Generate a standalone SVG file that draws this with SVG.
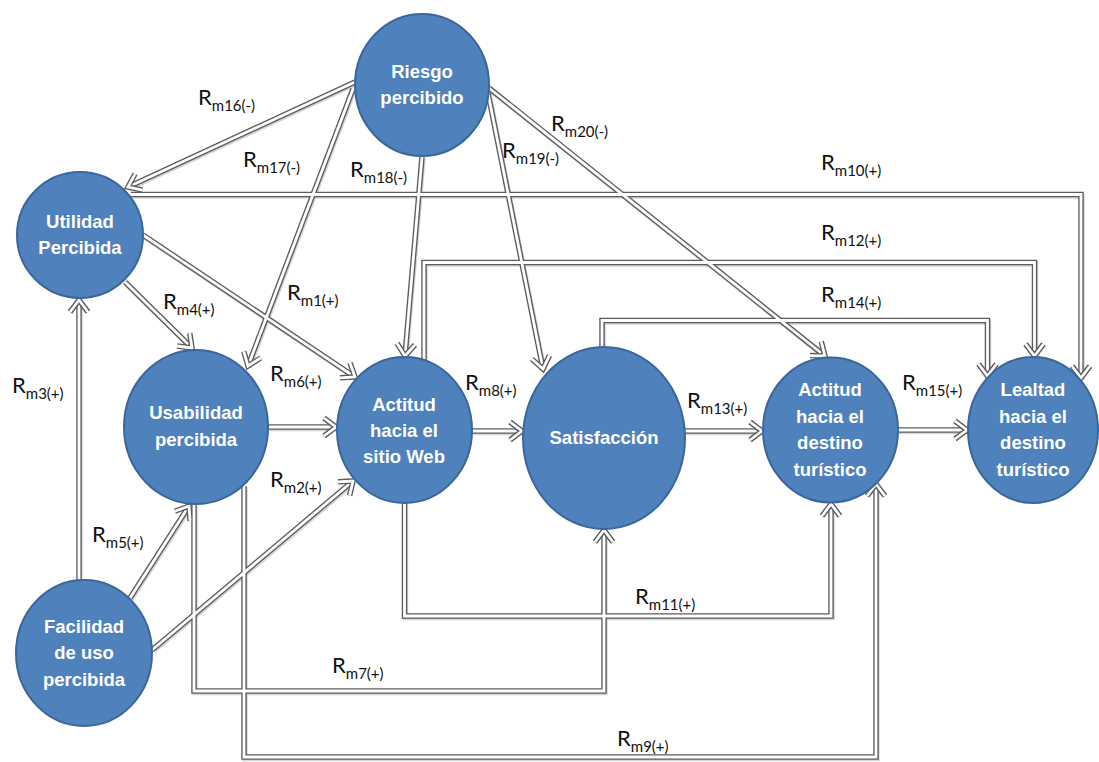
<svg xmlns="http://www.w3.org/2000/svg" xmlns:xlink="http://www.w3.org/1999/xlink" width="1099" height="762" viewBox="0 0 1099 762">
  <style>
    .node { fill: #4F81BD; stroke: #3A669A; stroke-width: 2; }
    .nt { font-family: "Liberation Sans", Arial, sans-serif; font-weight: 700; font-size: 18.5px; fill: #ffffff; text-anchor: middle; }
    .lbl { font-family: Lato, "Liberation Sans", sans-serif; font-size: 22px; fill: #111111; }
    .sub { font-size: 15px; }
    .shadow use { fill: none; stroke: #c4c4c4; stroke-width: 5.5; stroke-linejoin: miter; opacity: 0.7; }
    .outer use { fill: none; stroke: #5c5c5c; stroke-width: 5.5; stroke-linejoin: miter; }
    .inner use { fill: none; stroke: #ffffff; stroke-width: 2.8; stroke-linejoin: miter; marker-end: url(#head); }
  </style>
  <defs>
    <!-- open double-line chevron head -->
    <marker id="head" viewBox="-18 -14 26 28" markerWidth="26" markerHeight="28" refX="0" refY="0" orient="auto" markerUnits="userSpaceOnUse">
      <path d="M-12,-9 L0,0 L-12,9" fill="none" stroke="#5c5c5c" stroke-width="5.5" stroke-linejoin="miter"/>
      <path d="M-12,-9 L0,0 L-12,9" fill="none" stroke="#ffffff" stroke-width="2.8" stroke-linejoin="miter"/>
    </marker>
    <path id="c16" d="M355,82 L128,187"/>
    <path id="c17" d="M353,89 L248,366"/>
    <path id="c18" d="M422,157 L405,356"/>
    <path id="c19" d="M488,93 L543,369"/>
    <path id="c20" d="M489,88 L825,356"/>
    <path id="c10" d="M131,194.5 L1081,194.5 L1081,378"/>
    <path id="c12" d="M424,360 L424,262.5 L1034.5,262.5 L1034.5,356"/>
    <path id="c14" d="M602,348 L602,320.5 L987.5,320.5 L987.5,376"/>
    <path id="c1" d="M143,235 L355,377"/>
    <path id="c4" d="M125,282 L192,348"/>
    <path id="c6" d="M268,427 L336,427"/>
    <path id="c2" d="M152,650 L353,481"/>
    <path id="c5" d="M130,598 L189,506"/>
    <path id="c3" d="M79,581 L79,300"/>
    <path id="c7" d="M194,503 L194,691 L604,691 L604,530"/>
    <path id="c9" d="M244,486 L244,757 L876,757 L876,484"/>
    <path id="c11" d="M404.5,503 L404.5,616 L831,616 L831,504"/>
    <path id="c8" d="M472,431 L522,431"/>
    <path id="c13" d="M685,431 L762,431"/>
    <path id="c15" d="M898,430 L967,430"/>
  </defs>

  <g id="connectors">
    <g class="shadow" transform="translate(1,1.5)">
      <use xlink:href="#c16"/><use xlink:href="#c17"/><use xlink:href="#c18"/><use xlink:href="#c19"/><use xlink:href="#c20"/>
      <use xlink:href="#c10"/><use xlink:href="#c12"/><use xlink:href="#c14"/><use xlink:href="#c1"/><use xlink:href="#c4"/>
      <use xlink:href="#c6"/><use xlink:href="#c2"/><use xlink:href="#c5"/><use xlink:href="#c3"/><use xlink:href="#c7"/>
      <use xlink:href="#c9"/><use xlink:href="#c11"/><use xlink:href="#c8"/><use xlink:href="#c13"/><use xlink:href="#c15"/>
    </g>
    <g class="outer">
      <use xlink:href="#c16"/><use xlink:href="#c17"/><use xlink:href="#c18"/><use xlink:href="#c19"/><use xlink:href="#c20"/>
      <use xlink:href="#c10"/><use xlink:href="#c12"/><use xlink:href="#c14"/><use xlink:href="#c1"/><use xlink:href="#c4"/>
      <use xlink:href="#c6"/><use xlink:href="#c2"/><use xlink:href="#c5"/><use xlink:href="#c3"/><use xlink:href="#c7"/>
      <use xlink:href="#c9"/><use xlink:href="#c11"/><use xlink:href="#c8"/><use xlink:href="#c13"/><use xlink:href="#c15"/>
    </g>
    <g class="inner">
      <use xlink:href="#c16"/><use xlink:href="#c17"/><use xlink:href="#c18"/><use xlink:href="#c19"/><use xlink:href="#c20"/>
      <use xlink:href="#c10"/><use xlink:href="#c12"/><use xlink:href="#c14"/><use xlink:href="#c1"/><use xlink:href="#c4"/>
      <use xlink:href="#c6"/><use xlink:href="#c2"/><use xlink:href="#c5"/><use xlink:href="#c3"/><use xlink:href="#c7"/>
      <use xlink:href="#c9"/><use xlink:href="#c11"/><use xlink:href="#c8"/><use xlink:href="#c13"/><use xlink:href="#c15"/>
    </g>

    <!-- relation labels -->
    <text class="lbl" x="198" y="105">R<tspan class="sub" dy="6">m16(-)</tspan></text>
    <text class="lbl" x="243" y="167">R<tspan class="sub" dy="6">m17(-)</tspan></text>
    <text class="lbl" x="350" y="177">R<tspan class="sub" dy="6">m18(-)</tspan></text>
    <text class="lbl" x="502" y="158">R<tspan class="sub" dy="6">m19(-)</tspan></text>
    <text class="lbl" x="551" y="131">R<tspan class="sub" dy="6">m20(-)</tspan></text>
    <text class="lbl" x="821" y="170">R<tspan class="sub" dy="6">m10(+)</tspan></text>
    <text class="lbl" x="821" y="240">R<tspan class="sub" dy="6">m12(+)</tspan></text>
    <text class="lbl" x="821" y="302">R<tspan class="sub" dy="6">m14(+)</tspan></text>
    <text class="lbl" x="287" y="300">R<tspan class="sub" dy="6">m1(+)</tspan></text>
    <text class="lbl" x="163" y="309">R<tspan class="sub" dy="6">m4(+)</tspan></text>
    <text class="lbl" x="270" y="381">R<tspan class="sub" dy="6">m6(+)</tspan></text>
    <text class="lbl" x="270" y="487">R<tspan class="sub" dy="6">m2(+)</tspan></text>
    <text class="lbl" x="12" y="393">R<tspan class="sub" dy="6">m3(+)</tspan></text>
    <text class="lbl" x="92" y="542">R<tspan class="sub" dy="6">m5(+)</tspan></text>
    <text class="lbl" x="332" y="673">R<tspan class="sub" dy="6">m7(+)</tspan></text>
    <text class="lbl" x="465" y="390">R<tspan class="sub" dy="6">m8(+)</tspan></text>
    <text class="lbl" x="687" y="408">R<tspan class="sub" dy="6">m13(+)</tspan></text>
    <text class="lbl" x="902" y="390">R<tspan class="sub" dy="6">m15(+)</tspan></text>
    <text class="lbl" x="635" y="604">R<tspan class="sub" dy="6">m11(+)</tspan></text>
    <text class="lbl" x="617" y="746">R<tspan class="sub" dy="6">m9(+)</tspan></text>
  </g>

  <g id="riesgo">
    <ellipse class="node" cx="422" cy="85" rx="67" ry="71"/>
    <text class="nt" x="422" y="78">Riesgo</text>
    <text class="nt" x="422" y="104">percibido</text>
  </g>
  <g id="utilidad">
    <ellipse class="node" cx="80" cy="235" rx="63" ry="63"/>
    <text class="nt" x="80" y="228">Utilidad</text>
    <text class="nt" x="80" y="254">Percibida</text>
  </g>
  <g id="usabilidad">
    <ellipse class="node" cx="196" cy="427" rx="72" ry="77"/>
    <text class="nt" x="196" y="419">Usabilidad</text>
    <text class="nt" x="196" y="446">percibida</text>
  </g>
  <g id="actitud-web">
    <ellipse class="node" cx="404.5" cy="430" rx="67.5" ry="73"/>
    <text class="nt" x="404" y="411">Actitud</text>
    <text class="nt" x="404" y="437">hacia el</text>
    <text class="nt" x="404" y="463">sitio Web</text>
  </g>
  <g id="satisfaccion">
    <ellipse class="node" cx="604" cy="438" rx="81" ry="91"/>
    <text class="nt" x="604" y="444">Satisfacción</text>
  </g>
  <g id="actitud-destino">
    <ellipse class="node" cx="830.5" cy="430" rx="67.5" ry="72.5"/>
    <text class="nt" x="830" y="396">Actitud</text>
    <text class="nt" x="830" y="423">hacia el</text>
    <text class="nt" x="830" y="449">destino</text>
    <text class="nt" x="830" y="476">turístico</text>
  </g>
  <g id="lealtad">
    <ellipse class="node" cx="1033" cy="430" rx="65" ry="73"/>
    <text class="nt" x="1033" y="396">Lealtad</text>
    <text class="nt" x="1033" y="423">hacia el</text>
    <text class="nt" x="1033" y="449">destino</text>
    <text class="nt" x="1033" y="476">turístico</text>
  </g>
  <g id="facilidad">
    <ellipse class="node" cx="84" cy="653" rx="68" ry="73"/>
    <text class="nt" x="84" y="633">Facilidad</text>
    <text class="nt" x="84" y="659">de uso</text>
    <text class="nt" x="84" y="686">percibida</text>
  </g>
</svg>
